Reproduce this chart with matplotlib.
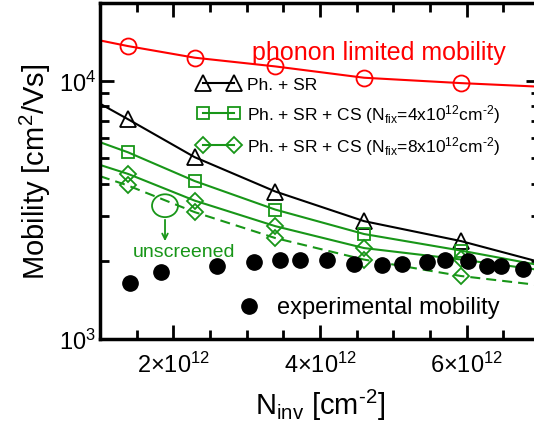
import numpy as np
import matplotlib.pyplot as plt
from matplotlib.lines import Line2D
from matplotlib.patches import Ellipse
from matplotlib.ticker import MultipleLocator, LogLocator, NullFormatter

plt.rcParams['font.family'] = 'Liberation Sans'
plt.rcParams['mathtext.fontset'] = 'custom'
plt.rcParams['mathtext.rm'] = 'Liberation Sans'
plt.rcParams['mathtext.it'] = 'Liberation Sans:italic'
plt.rcParams['mathtext.default'] = 'regular'

GREEN = '#189618'

# simulated points, N_inv in units of 1e12 cm^-2
n_calc = [1.38, 2.29, 3.39, 4.60, 5.92]
mu_phonon = [13620, 12280, 11360, 10270, 9790]
mu_sr = [7100, 5060, 3725, 2860, 2395]
mu_cs4 = [5285, 4090, 3170, 2550, 2200]
mu_cs8 = [4360, 3435, 2735, 2250, 2032]
mu_cs8_unscr = [3930, 3100, 2460, 2030, 1754]

# fitted curves through the simulated points
n_fit = [1.0, 1.38, 2.29, 3.39, 4.60, 5.92, 7.0]
fit_phonon = [14320, 13620, 12280, 11360, 10270, 9790, 9480]
fit_sr = [8150, 7100, 5060, 3725, 2860, 2395, 1985]
fit_cs4 = [5780, 5285, 4090, 3170, 2550, 2200, 1930]
fit_cs8 = [4720, 4360, 3435, 2735, 2250, 2032, 1850]
fit_cs8_unscr = [4270, 3930, 3100, 2460, 2030, 1754, 1615]

# experimental mobility
n_exp = [1.41, 1.83, 2.60, 3.10, 3.46, 3.73, 4.09, 4.46, 4.84, 5.12,
         5.46, 5.70, 6.02, 6.28, 6.47, 6.77]
mu_exp = [1649, 1814, 1924, 1983, 2029, 2024, 2024, 1953, 1941, 1953,
          1983, 2024, 2001, 1924, 1924, 1867]

x_ticks = [2e12, 4e12, 6e12]
x_labels = [r'$2{\times}10^{12}$', r'$4{\times}10^{12}$', r'$6{\times}10^{12}$']

leg_labels = ['Ph. + SR',
              r'Ph. + SR + CS (N$_{fix}$=4x10$^{12}$cm$^{\text{-2}}$)',
              r'Ph. + SR + CS (N$_{fix}$=8x10$^{12}$cm$^{\text{-2}}$)']


def e12(v):
    return np.array(v) * 1e12


fig = plt.figure(figsize=(5.34, 4.27), dpi=100)
ax = fig.add_axes([0.1873, 0.2037, 0.824, 0.787])

lw = 1.5
ax.plot(e12(n_fit), fit_phonon, color='red', lw=lw)
ax.plot(e12(n_calc), mu_phonon, 'o', color='red', mfc='none', ms=11.5, mew=1.3)

ax.plot(e12(n_fit), fit_sr, color='black', lw=lw)
ax.plot(e12(n_calc), mu_sr, '^', color='black', mfc='none', ms=11, mew=1.3)

ax.plot(e12(n_fit), fit_cs4, color=GREEN, lw=lw)
ax.plot(e12(n_calc), mu_cs4, 's', color=GREEN, mfc='none', ms=9, mew=1.3)

ax.plot(e12(n_fit), fit_cs8, color=GREEN, lw=lw)
ax.plot(e12(n_calc), mu_cs8, 'D', color=GREEN, mfc='none', ms=8, mew=1.3)

ax.plot(e12(n_fit), fit_cs8_unscr, color=GREEN, lw=lw, ls=(0, (4.8, 2.9)))
ax.plot(e12(n_calc), mu_cs8_unscr, 'D', color=GREEN, mfc='none', ms=8, mew=1.3)

ax.plot(e12(n_exp), mu_exp, 'o', color='black', ms=11)

ax.set_yscale('log')
ax.set_xlim(1e12, 7e12)
ax.set_ylim(1e3, 2e4)

ax.set_xticks(x_ticks, labels=x_labels)
ax.xaxis.set_minor_locator(MultipleLocator(0.5e12))
ax.yaxis.set_major_locator(LogLocator(base=10))
ax.yaxis.set_minor_locator(LogLocator(base=10, subs=np.arange(2, 10)))
ax.yaxis.set_minor_formatter(NullFormatter())

ax.tick_params(which='both', direction='in', top=True, right=True, width=2)
ax.tick_params(which='major', length=10, labelsize=17)
ax.tick_params(which='minor', length=6.5)
ax.tick_params(axis='x', which='major', pad=9)
ax.tick_params(axis='y', which='major', pad=3)
for s in ax.spines.values():
    s.set_linewidth(2.5)

ax.set_ylabel('Mobility [cm$^2$/Vs]', fontsize=21)
ax.yaxis.set_label_coords(-0.107, 0.5)
ax.set_xlabel(r'N$_{inv}$ [cm$^{\text{-2}}$]', fontsize=21)
ax.xaxis.set_label_coords(0.5, -0.143)

# legend for simulated curves
handles = [
    Line2D([], [], color='black', lw=lw, marker='^', mfc='none', ms=11, mew=1.3),
    Line2D([], [], color=GREEN, lw=lw, marker='s', mfc='none', ms=9, mew=1.3),
    Line2D([], [], color=GREEN, lw=lw, marker='D', mfc='none', ms=8, mew=1.3),
]
ax.legend(handles, leg_labels, loc='upper left', bbox_to_anchor=(0.2227, 0.78),
          frameon=False, numpoints=2, handlelength=2.39, handletextpad=0.43,
          borderpad=0, borderaxespad=0, labelspacing=0.55, fontsize=12.5)

ax.text(0.345, 0.833, 'phonon limited mobility', color='red', fontsize=18,
        transform=ax.transAxes, ha='left', va='baseline')

ax.plot([0.339], [0.099], 'o', color='black', ms=11, transform=ax.transAxes)
ax.text(0.4016, 0.0774, 'experimental mobility', fontsize=17,
        transform=ax.transAxes, ha='left', va='baseline')

# unscreened marker
ax.add_patch(Ellipse((0.1477, 0.3967), 0.059, 0.068, transform=ax.transAxes,
                     fill=False, edgecolor=GREEN, lw=1.3))
ax.annotate('', xy=(0.1477, 0.283), xytext=(0.1477, 0.363),
            xycoords='axes fraction', textcoords='axes fraction',
            arrowprops=dict(arrowstyle='->', color=GREEN, lw=1.3))
ax.text(0.191, 0.247, 'unscreened', color=GREEN, fontsize=14,
        transform=ax.transAxes, ha='center', va='baseline')

fig.savefig('out.png', dpi=100)
